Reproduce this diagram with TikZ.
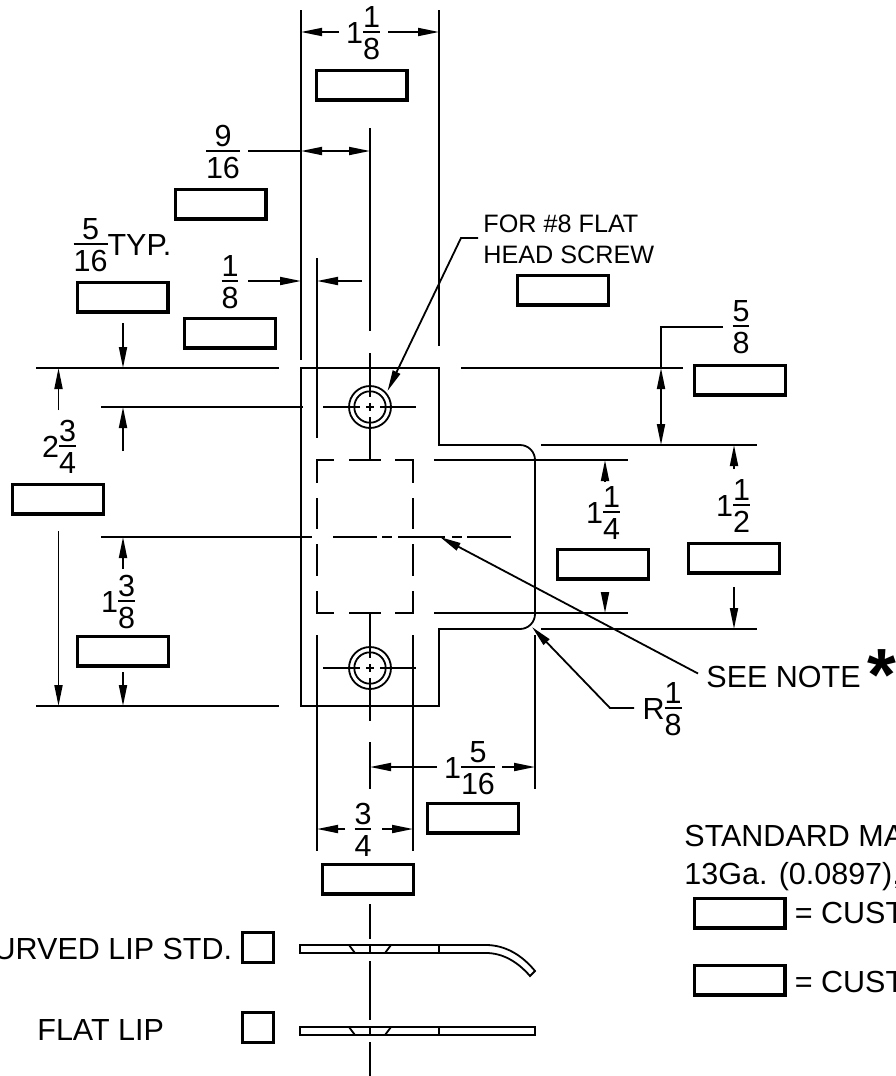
\documentclass[tikz,border=0pt]{standalone}
\usepackage{fontspec}
\setmainfont{Liberation Sans}
\usetikzlibrary{arrows.meta}
\newcommand{\fr}[2]{\raisebox{-16.5pt}{\vbox{\offinterlineskip\halign{\hfil##\hfil\cr\rule{0pt}{22pt}#1\cr\noalign{\kern3.5pt\hrule height 1.6pt\kern5pt}\rule{0pt}{22pt}#2\cr}}}}
\tikzset{
    blank/.style={draw, line width=3.2pt, minimum width=90.8pt, minimum height=29.8pt, inner sep=0pt},
    tick/.style={draw, line width=3.2pt, minimum width=30.8pt, minimum height=29.8pt, inner sep=0pt},
    txt/.style={font=\fontsize{30.5}{36}\selectfont, inner sep=0pt, anchor=base},
    small/.style={font=\fontsize{25.2}{31}\selectfont, inner sep=0pt, anchor=base west}
}

\begin{document}
\begin{tikzpicture}[x=1pt, y=-1pt, line width=1.8pt, >={Triangle[length=21pt,width=8pt]}]
    \useasboundingbox (0,0) rectangle (895,1076);
    \clip (0,0) rectangle (895,1076);

    % Globals
    \coordinate (HOLE_TOP) at (370,407);
    \coordinate (HOLE_BOT) at (370,668);
    \coordinate (SCREW_TIP) at (387.5,391);
    \coordinate (NOTE_TIP) at (440,537);
    \coordinate (FILLET_TIP) at (532,627);

    % Plate
    \draw (301,368) -- (439,368) -- (439,445) -- (520,445)
        arc[start angle=-90, end angle=0, radius=15] -- (535,614)
        arc[start angle=0, end angle=90, radius=15] -- (439,629) -- (439,706) -- (301,706) -- cycle;

    % Holes
    \draw (HOLE_TOP) circle[radius=21];
    \draw (HOLE_TOP) circle[radius=15.7];
    \draw (HOLE_BOT) circle[radius=21];
    \draw (HOLE_BOT) circle[radius=15.7];
    \draw (HOLE_TOP) ++(-4,0) -- ++(8,0);
    \draw (HOLE_TOP) ++(0,-4) -- ++(0,8);
    \draw (HOLE_BOT) ++(-4,0) -- ++(8,0);
    \draw (HOLE_BOT) ++(0,-4) -- ++(0,8);
    \draw (HOLE_TOP) ++(-47,0) -- ++(37,0);
    \draw (HOLE_TOP) ++(10,0) -- ++(36,0);
    \draw (HOLE_BOT) ++(-47,0) -- ++(37,0);
    \draw (HOLE_BOT) ++(10,0) -- ++(36,0);

    % Centre lines
    \draw (370,128) -- (370,331);
    \draw (370,353) -- (370,397);
    \draw (370,417) -- (370,460);
    \draw (370,613) -- (370,658);
    \draw (370,678) -- (370,721);
    \draw (370,742) -- (370,789);
    \draw (370,904) -- (370,939);
    \draw (370,961) -- (370,1020);
    \draw (370,1042) -- (370,1076);
    \draw (101,537) -- (312,537);
    \draw (333,537) -- (377,537);
    \draw (382,537) -- (392,537);
    \draw (398,537) -- (445,537);
    \draw (452,537) -- (462,537);
    \draw (467,537) -- (511,537);

    % Hidden square
    \draw (334,460) -- (317,460) -- (317,483);
    \draw (349,460) -- (381,460);
    \draw (395,460) -- (413,460) -- (413,483);
    \draw (317,498) -- (317,529);
    \draw (413,498) -- (413,529);
    \draw (317,544) -- (317,576);
    \draw (413,544) -- (413,576);
    \draw (317,591) -- (317,613) -- (334,613);
    \draw (413,591) -- (413,613) -- (395,613);
    \draw (349,613) -- (381,613);

    % Extension lines
    \draw (301,10) -- (301,360);
    \draw (439,10) -- (439,346);
    \draw (317,258) -- (317,438);
    \draw (317,635) -- (317,851);
    \draw (413,635) -- (413,851);
    \draw (535,635) -- (535,789);
    \draw (36,368) -- (279,368);
    \draw (36,706) -- (279,706);
    \draw (101,407) -- (303,407);
    \draw (461,368) -- (683,368);
    \draw (541,445) -- (757,445);
    \draw (541,629) -- (757,629);
    \draw (434,460) -- (628,460);
    \draw (434,613) -- (628,613);

    % Dimension arrows
    \draw[->] (339,32) -- (301,32);
    \draw[->] (388,32) -- (439,32);
    \draw (248,151) -- (301,151);
    \draw[<->] (301,151) -- (370,151);
    \draw[->] (248,281) -- (301,281);
    \draw[->] (362,281) -- (317,281);
    \draw[->] (123,323) -- (123,368);
    \draw[->] (123,451) -- (123,407);
    \draw[->] (58.5,410) -- (58.5,368);
    \draw[->] (58.5,531) -- (58.5,706);
    \draw[->] (123,569) -- (123,537);
    \draw[->] (123,672) -- (123,706);
    \draw (723,327) -- (661,327) -- (661,368);
    \draw[<->] (661,368) -- (661,445);
    \draw[->] (734,469) -- (734,445);
    \draw[->] (734,587) -- (734,629);
    \draw[->] (605,482) -- (605,460);
    \draw[->] (605,592) -- (605,613);
    \draw[->] (437,767) -- (370,767);
    \draw[->] (502,767) -- (535,767);
    \draw[->] (345,829) -- (317,829);
    \draw[->] (382,829) -- (413,829);

    % Leaders
    \draw[->] (478,238) -- (461,238) -- (SCREW_TIP);
    \draw[->] (698,673.5) -- (NOTE_TIP);
    \draw[->] (634,708) -- (610,708) -- (FILLET_TIP);

    % Sections
    \draw (300,945) -- (486,945) .. controls (505,945) and (522,955) .. (535,971)
        -- (530,976) .. controls (517,961) and (502,953) .. (486,953) -- (300,953) -- cycle;
    \draw (349,945) -- (355,953);
    \draw (391,945) -- (385,953);
    \draw (370,945) -- (370,953);
    \draw (439,945) -- (439,953);
    \draw (300,1027) rectangle (535,1035);
    \draw (349,1027) -- (355,1035);
    \draw (391,1027) -- (385,1035);
    \draw (370,1027) -- (370,1035);
    \draw (439,1027) -- (439,1035);

    % Blank boxes
    \node[blank] (BOX_WIDTH) at (361.5,85) {};
    \node[blank] (BOX_CENTRE) at (220.5,204) {};
    \node[blank] (BOX_TYP) at (122.5,297) {};
    \node[blank] (BOX_SLOT) at (230,333) {};
    \node[blank] (BOX_SCREW) at (563,290) {};
    \node[blank] (BOX_UPPER) at (740,380) {};
    \node[blank] (BOX_HEIGHT) at (58,499) {};
    \node[blank] (BOX_SQUARE) at (603,564) {};
    \node[blank] (BOX_LIP) at (734,558) {};
    \node[blank] (BOX_LOWER) at (123,651) {};
    \node[blank] (BOX_REACH) at (473,818) {};
    \node[blank] (BOX_HOLES) at (368,879) {};
    \node[blank] (BOX_KEY_A) at (739.5,913) {};
    \node[blank] (BOX_KEY_B) at (739.5,980) {};
    \node[tick] (TICK_CURVED) at (258,947.5) {};
    \node[tick] (TICK_FLAT) at (258,1027.5) {};

    % Dimension labels
    \node[txt] (DIM_WIDTH) at (363,43) {1\fr{1}{8}};
    \node[txt] (DIM_CENTRE) at (223,162) {\fr{9}{16}};
    \node[txt] (DIM_TYP) at (122.5,255) {\fr{5}{16}TYP.};
    \node[txt] (DIM_SLOT) at (230,292) {\fr{1}{8}};
    \node[txt] (DIM_UPPER) at (741,337) {\fr{5}{8}};
    \node[txt] (DIM_HEIGHT) at (59,457) {2\fr{3}{4}};
    \node[txt] (DIM_LOWER) at (118,612) {1\fr{3}{8}};
    \node[txt] (DIM_SQUARE) at (603,523) {1\fr{1}{4}};
    \node[txt] (DIM_LIP) at (733,516) {1\fr{1}{2}};
    \node[txt] (DIM_FILLET) at (662,719) {R\fr{1}{8}};
    \node[txt] (DIM_REACH) at (469.5,778) {1\fr{5}{16}};
    \node[txt] (DIM_HOLES) at (363,840) {\fr{3}{4}};

    % Notes
    \node[small] (NOTE_SCREW_A) at (482.5,232) {FOR \#8 FLAT};
    \node[small] (NOTE_SCREW_B) at (482.5,263) {HEAD SCREW};
    \node[txt, anchor=base west] (NOTE_SEE) at (705.5,687) {SEE NOTE};
    \node[txt, anchor=base, font=\fontsize{74}{74}\selectfont\bfseries] (NOTE_STAR) at (881.5,700) {*};
    \node[txt, anchor=base west] (NOTE_MAT_A) at (683.5,846) {STANDARD MA};
    \node[txt, anchor=base west] (NOTE_MAT_B) at (683.5,884) {13Ga. (0.0897),};
    \node[txt, anchor=base west] (NOTE_KEY_A) at (794,923) {= CUST};
    \node[txt, anchor=base west] (NOTE_KEY_B) at (794,992) {= CUST};
    \node[txt, anchor=base east] (NOTE_CURVED) at (233,959) {URVED LIP STD.};
    \node[txt, anchor=base west] (NOTE_FLAT) at (36.5,1040) {FLAT LIP};
\end{tikzpicture}
\end{document}
